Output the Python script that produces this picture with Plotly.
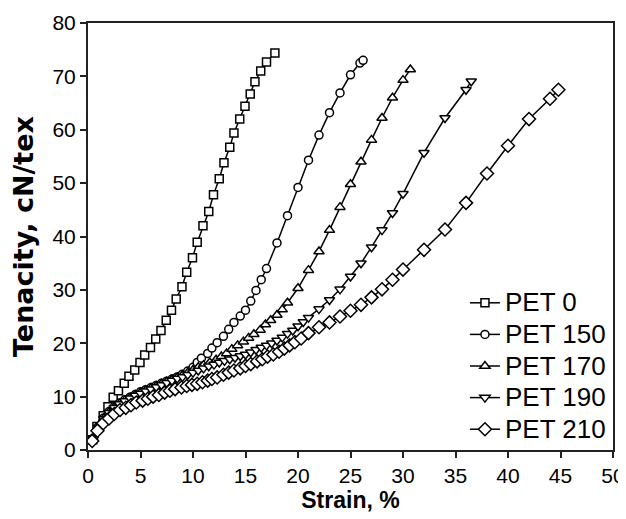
import plotly.graph_objects as go

x_pet0 = [0.45,0.85,1.45,1.9,2.4,2.9,3.45,3.9,4.45,4.95,5.4,5.95,6.45,6.95,7.45,7.95,8.4,8.95,9.4,9.95,
          10.4,10.95,11.5,11.95,12.5,12.95,13.5,13.9,14.45,14.95,15.45,15.9,16.45,17.0,17.8]
y_pet0 = [1.9,4.4,6.4,8.1,9.9,11.1,12.5,13.8,15.0,16.4,17.8,19.2,20.8,22.4,24.3,26.2,28.3,30.6,33.3,36.0,
          38.9,42.0,44.7,47.8,50.8,53.8,56.7,59.4,62.0,64.4,66.7,69.0,71.0,72.7,74.4]

x_pet150 = [0.5,1.0,1.5,2.0,2.5,3.0,3.5,4.0,4.5,5.0,5.5,6.0,6.5,7.0,7.5,8.0,8.5,9.0,9.5,10.0,
            10.4,10.8,11.4,11.8,12.3,12.9,13.4,13.9,14.5,15.0,15.5,16.0,16.5,17.0,18.0,19.0,20.0,21.0,
            22.0,23.0,24.0,25.0,25.9,26.2]
y_pet150 = [2.2,4.4,6.0,7.2,8.1,8.8,9.4,9.9,10.4,10.9,11.3,11.7,12.1,12.5,12.9,13.3,13.7,14.2,14.8,15.5,
            16.4,17.2,18.1,19.1,20.1,21.3,22.6,23.9,25.1,26.2,27.9,29.9,31.9,34.0,38.8,43.9,49.2,54.3,
            59.0,63.2,66.9,70.3,72.5,73.0]

x_pet170 = [0.5,1.0,1.5,2.0,2.5,3.0,3.5,4.0,4.5,5.0,5.5,6.0,6.5,7.0,7.5,8.0,8.5,9.0,9.5,10.0,
            10.5,11.0,11.6,12.2,12.7,13.2,13.7,14.25,14.8,15.3,15.8,16.4,16.9,17.4,18.0,18.5,19.0,
            20.0,21.0,22.0,23.0,24.0,25.0,26.0,27.0,28.0,29.0,30.0,30.7]
y_pet170 = [2.1,4.3,5.9,7.1,8.0,8.7,9.3,9.8,10.3,10.8,11.2,11.6,12.0,12.4,12.8,13.2,13.6,14.0,14.5,15.0,
            15.5,15.9,16.4,16.9,17.5,18.1,18.9,19.6,20.3,21.0,21.7,22.5,23.5,24.3,25.3,26.3,27.6,
            30.3,33.7,37.2,41.2,45.5,49.8,54.0,58.1,62.2,66.0,69.3,71.3]

x_pet190 = [0.5,1.0,1.5,2.0,2.5,3.0,3.5,4.0,4.5,5.0,5.5,6.0,6.5,7.0,7.5,8.0,8.5,9.0,9.5,10.0,
            10.5,11.0,11.5,12.0,12.5,13.0,13.5,14.0,14.5,15.0,15.5,16.0,16.5,17.0,17.5,18.0,18.5,19.0,
            19.5,20.0,20.5,21.0,22.0,23.0,24.0,25.0,26.0,27.0,28.0,29.0,30.0,32.0,34.0,36.0,36.5]
y_pet190 = [2.0,4.2,5.8,7.0,7.9,8.6,9.2,9.7,10.2,10.6,11.0,11.4,11.8,12.2,12.6,13.0,13.4,13.7,14.1,14.5,
            14.9,15.3,15.7,16.0,16.4,16.7,17.0,17.3,17.6,17.9,18.3,18.8,19.2,19.6,20.0,20.5,21.1,21.8,
            22.4,23.2,24.0,24.8,26.4,28.1,30.1,32.5,35.0,38.0,41.2,44.4,48.0,55.7,62.2,67.5,69.1]

x_pet210 = [0.4,0.9,1.45,2.0,2.5,3.05,3.6,4.1,4.6,5.2,5.7,6.2,6.75,7.3,7.8,8.3,8.9,9.4,9.9,10.4,
            10.9,11.4,11.8,12.3,12.9,13.4,13.9,14.5,15.0,15.5,16.1,16.6,17.1,17.65,18.2,18.7,19.2,19.7,
            20.3,21.0,22.0,23.0,24.0,25.0,26.0,27.0,28.0,29.0,30.0,32.0,34.0,36.0,38.0,40.0,42.0,44.0,44.8]
y_pet210 = [1.7,3.6,5.0,5.9,6.75,7.5,7.9,8.4,8.9,9.25,9.6,10.0,10.3,10.75,11.1,11.4,11.7,12.0,12.2,12.4,
            12.7,13.0,13.3,13.6,14.1,14.5,14.9,15.3,15.75,16.1,16.6,17.0,17.5,17.9,18.4,19.0,19.6,20.2,
            20.9,21.9,23.0,23.9,25.0,26.1,27.2,28.6,30.1,31.9,33.8,37.5,41.3,46.3,51.8,57.0,62.0,65.8,67.5]

names = ["PET 0", "PET 150", "PET 170", "PET 190", "PET 210"]
xs = [x_pet0, x_pet150, x_pet170, x_pet190, x_pet210]
ys = [y_pet0, y_pet150, y_pet170, y_pet190, y_pet210]
symbols = ["square", "circle", "triangle-up", "triangle-down", "diamond"]
sizes = [8, 8, 9, 9, 10]

FONT = "Liberation Sans, Arial, sans-serif"

fig = go.Figure()
for n, x, y, s, sz in zip(names, xs, ys, symbols, sizes):
    fig.add_trace(go.Scatter(
        x=x, y=y, name="<span style='font-size:26px'>" + n + "</span>", mode="lines+markers",
        line=dict(color="black", width=1.5),
        marker=dict(symbol=s, size=sz, color="white",
                    line=dict(color="black", width=1.5)),
    ))

# page body adds an 8px offset; margins are reduced accordingly
fig.update_layout(
    width=618, height=511,
    margin=dict(l=80, r=13, t=15, b=69),
    paper_bgcolor="white", plot_bgcolor="white",
    font=dict(family=FONT, color="black"),
    showlegend=True,
    legend=dict(x=0.718, xanchor="left", y=0.0, yanchor="bottom",
                bgcolor="rgba(0,0,0,0)", font=dict(size=22, family=FONT),
                tracegroupgap=0),
)
fig.update_xaxes(
    range=[0, 50], tickvals=[0, 5, 10, 15, 20, 25, 30, 35, 40, 45, 50],
    showgrid=False, zeroline=False, automargin=False,
    showline=True, linecolor="#222", linewidth=2, mirror=True,
    ticks="outside", ticklen=6, tickwidth=1.5, tickcolor="#222",
    tickfont=dict(size=21, family=FONT),
    title=dict(text="<b>Strain, %</b>", font=dict(size=23, family=FONT), standoff=4),
)
fig.update_yaxes(
    range=[0, 80], tickvals=[0, 10, 20, 30, 40, 50, 60, 70, 80],
    showgrid=False, zeroline=False, automargin=False,
    showline=True, linecolor="#222", linewidth=2, mirror=True,
    ticks="outside", ticklen=6, tickwidth=1.5, tickcolor="#222",
    tickfont=dict(size=21, family=FONT),
    title=dict(text="<b>Tenacity, cN/tex</b>",
               font=dict(size=27, family="DejaVu Sans, sans-serif"), standoff=12),
)

fig.write_html("out.html")
